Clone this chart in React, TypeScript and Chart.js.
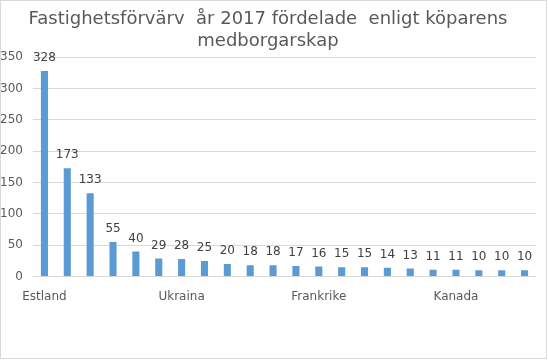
import React, { useEffect, useRef } from "react";
import { Chart, registerables } from "chart.js";

Chart.register(...registerables);

const titleLines = ["Fastighetsförvärv  år 2017 fördelade  enligt köparens", "medborgarskap"];
const categories = [
  "Estland", "Ryssland", "Sverige", "Tyskland", "Storbritannien", "Norge",
  "Ukraina", "Kina", "Nederländerna", "Litauen", "Lettland", "Spanien",
  "Frankrike", "Danmark", "Italien", "Polen", "Irak", "USA",
  "Kanada", "Turkiet", "Schweiz", "Vietnam",
];
const values = [328, 173, 133, 55, 40, 29, 28, 25, 20, 18, 18, 17, 16, 15, 15, 14, 13, 11, 11, 10, 10, 10];
const yTicks = [0, 50, 100, 150, 200, 250, 300, 350];

const FONT = "'DejaVu Sans', sans-serif";

const labelPlugin = {
  id: "valueLabels",
  afterDatasetsDraw(chart: any) {
    const ctx = chart.ctx;
    const meta = chart.getDatasetMeta(0);
    ctx.save();
    ctx.font = `12px ${FONT}`;
    ctx.fillStyle = "#404040";
    ctx.textAlign = "center";
    ctx.textBaseline = "middle";
    meta.data.forEach((bar: any, i: number) => {
      ctx.fillText(String(values[i]), bar.x, bar.y - 13);
    });
    ctx.restore();
  },
};

const borderPlugin = {
  id: "outerBorder",
  afterDraw(chart: any) {
    const ctx = chart.ctx;
    ctx.save();
    ctx.strokeStyle = "#d9d9d9";
    ctx.lineWidth = 1;
    ctx.strokeRect(0.5, 0.5, 546, 358);
    ctx.restore();
  },
};

export default function App() {
  const ref = useRef<HTMLCanvasElement | null>(null);
  useEffect(() => {
    document.body.style.margin = "0";
    if (!ref.current) return;
    const chart = new Chart(ref.current, {
      type: "bar",
      data: {
        labels: categories,
        datasets: [
          {
            data: values,
            backgroundColor: "#5b9bd5",
            categoryPercentage: 1,
            barPercentage: 0.31,
          },
        ],
      },
      options: {
        animation: false,
        responsive: false,
        maintainAspectRatio: false,
        layout: { padding: { left: 0, right: 12, top: 0, bottom: 43 } },
        plugins: {
          legend: { display: false },
          tooltip: { enabled: false },
          title: {
            display: true,
            text: titleLines,
            color: "#595959",
            font: { family: FONT, size: 18, weight: "normal", lineHeight: 1.2 },
            padding: { top: 9, bottom: 5 },
          },
        },
        scales: {
          x: {
            grid: { display: false, drawTicks: false },
            border: { display: false },
            afterFit: (axis: any) => {
              axis.paddingLeft = 0;
              axis.paddingRight = 0;
            },
            ticks: {
              autoSkip: false,
              maxRotation: 0,
              minRotation: 0,
              padding: 13,
              color: "#595959",
              font: { family: FONT, size: 12 },
              callback: (_v: any, i: number) => (i % 6 === 0 ? categories[i] : ""),
            },
          },
          y: {
            min: 0,
            max: 350,
            afterBuildTicks: (axis: any) => {
              axis.ticks = yTicks.map((v) => ({ value: v }));
            },
            afterFit: (axis: any) => {
              axis.width = 33;
            },
            grid: { color: "#d9d9d9", drawTicks: false },
            border: { display: false },
            ticks: {
              padding: 10,
              color: "#595959",
              font: { family: FONT, size: 12 },
            },
          },
        },
      },
      plugins: [labelPlugin, borderPlugin],
    });
    return () => chart.destroy();
  }, []);
  return <canvas ref={ref} width={548} height={360} style={{ display: "block" }} />;
}
